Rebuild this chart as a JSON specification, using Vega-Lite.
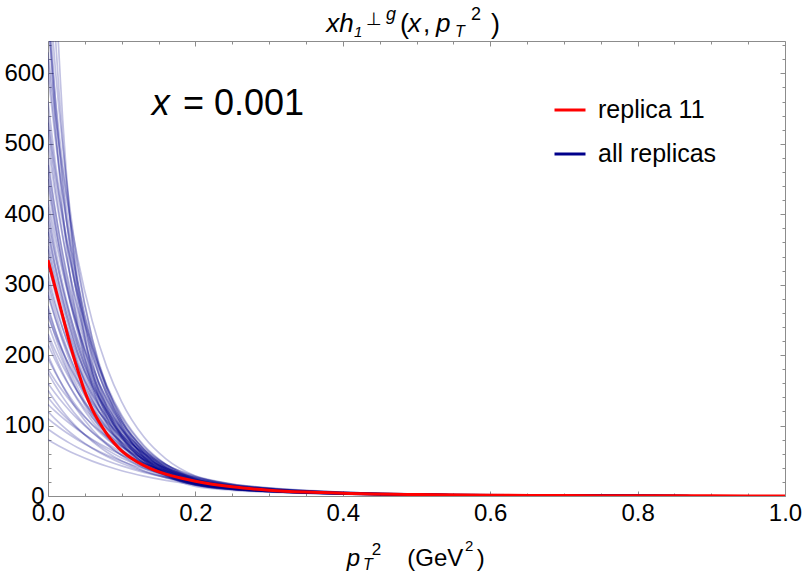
{
"$schema":"https://vega.github.io/schema/vega-lite/v6.json",
"width":737,"height":455,"autosize":"none",
"padding":{"left":48,"top":41,"right":20,"bottom":78},
"config":{"view":{"stroke":"#8c8c8c","strokeWidth":1},"font":"Liberation Sans"},
"datasets":{
"red":[
{"pt2":0,"f":335},{"pt2":0.01,"f":295},{"pt2":0.02,"f":255},{"pt2":0.03,"f":215},{"pt2":0.04,"f":180},{"pt2":0.05,"f":148},{"pt2":0.06,"f":123},{"pt2":0.07,"f":104},{"pt2":0.08,"f":88},{"pt2":0.09,"f":75},{"pt2":0.1,"f":64},{"pt2":0.12,"f":49},{"pt2":0.14,"f":38.5},{"pt2":0.16,"f":31},{"pt2":0.18,"f":25.5},{"pt2":0.2,"f":21},{"pt2":0.25,"f":13},{"pt2":0.3,"f":8.3},{"pt2":0.35,"f":5.6},{"pt2":0.4,"f":3.9},{"pt2":0.5,"f":2.0},{"pt2":0.6,"f":1.1},{"pt2":0.7,"f":0.65},{"pt2":0.8,"f":0.38},{"pt2":0.9,"f":0.22},{"pt2":1,"f":0.13}
],
"blue":[
{"replica":1,"pt2":0,"f":80},{"replica":1,"pt2":0.01,"f":73.8},{"replica":1,"pt2":0.02,"f":68.2},{"replica":1,"pt2":0.03,"f":62.9},{"replica":1,"pt2":0.04,"f":58.1},{"replica":1,"pt2":0.06,"f":49.5},{"replica":1,"pt2":0.08,"f":42.2},{"replica":1,"pt2":0.1,"f":35.9},{"replica":1,"pt2":0.13,"f":28.3},{"replica":1,"pt2":0.16,"f":22.2},{"replica":1,"pt2":0.2,"f":16.2},{"replica":1,"pt2":0.25,"f":9.7},{"replica":1,"pt2":0.3,"f":6.5},{"replica":1,"pt2":0.4,"f":3.1},{"replica":1,"pt2":0.55,"f":1.2},{"replica":1,"pt2":0.75,"f":0.4},{"replica":1,"pt2":1,"f":0.1},
{"replica":2,"pt2":0,"f":95},{"replica":2,"pt2":0.01,"f":87.7},{"replica":2,"pt2":0.02,"f":80.9},{"replica":2,"pt2":0.03,"f":74.7},{"replica":2,"pt2":0.04,"f":69},{"replica":2,"pt2":0.06,"f":58.8},{"replica":2,"pt2":0.08,"f":50.1},{"replica":2,"pt2":0.1,"f":42.7},{"replica":2,"pt2":0.13,"f":33.6},{"replica":2,"pt2":0.16,"f":26.4},{"replica":2,"pt2":0.2,"f":19.2},{"replica":2,"pt2":0.25,"f":11.5},{"replica":2,"pt2":0.3,"f":7.7},{"replica":2,"pt2":0.4,"f":3.6},{"replica":2,"pt2":0.55,"f":1.4},{"replica":2,"pt2":0.75,"f":0.5},{"replica":2,"pt2":1,"f":0.12},
{"replica":3,"pt2":0,"f":110},{"replica":3,"pt2":0.01,"f":101.5},{"replica":3,"pt2":0.02,"f":93.7},{"replica":3,"pt2":0.03,"f":86.5},{"replica":3,"pt2":0.04,"f":79.9},{"replica":3,"pt2":0.06,"f":68.1},{"replica":3,"pt2":0.08,"f":58},{"replica":3,"pt2":0.1,"f":49.4},{"replica":3,"pt2":0.13,"f":38.9},{"replica":3,"pt2":0.16,"f":30.6},{"replica":3,"pt2":0.2,"f":22.2},{"replica":3,"pt2":0.25,"f":13.3},{"replica":3,"pt2":0.3,"f":8.9},{"replica":3,"pt2":0.4,"f":4.2},{"replica":3,"pt2":0.55,"f":1.7},{"replica":3,"pt2":0.75,"f":0.6},{"replica":3,"pt2":1,"f":0.13},
{"replica":4,"pt2":0,"f":120},{"replica":4,"pt2":0.01,"f":109.1},{"replica":4,"pt2":0.02,"f":99.2},{"replica":4,"pt2":0.03,"f":90.2},{"replica":4,"pt2":0.04,"f":82.1},{"replica":4,"pt2":0.06,"f":67.9},{"replica":4,"pt2":0.08,"f":56.1},{"replica":4,"pt2":0.1,"f":46.4},{"replica":4,"pt2":0.13,"f":34.9},{"replica":4,"pt2":0.16,"f":26.2},{"replica":4,"pt2":0.2,"f":18},{"replica":4,"pt2":0.25,"f":10.8},{"replica":4,"pt2":0.3,"f":7.2},{"replica":4,"pt2":0.4,"f":3.4},{"replica":4,"pt2":0.55,"f":1.35},{"replica":4,"pt2":0.75,"f":0.45},{"replica":4,"pt2":1,"f":0.11},
{"replica":5,"pt2":0,"f":140},{"replica":5,"pt2":0.01,"f":127.3},{"replica":5,"pt2":0.02,"f":115.8},{"replica":5,"pt2":0.03,"f":105.3},{"replica":5,"pt2":0.04,"f":95.7},{"replica":5,"pt2":0.06,"f":79.2},{"replica":5,"pt2":0.08,"f":65.5},{"replica":5,"pt2":0.1,"f":54.1},{"replica":5,"pt2":0.13,"f":40.7},{"replica":5,"pt2":0.16,"f":30.6},{"replica":5,"pt2":0.2,"f":20.9},{"replica":5,"pt2":0.25,"f":12.5},{"replica":5,"pt2":0.3,"f":8.4},{"replica":5,"pt2":0.4,"f":4},{"replica":5,"pt2":0.55,"f":1.6},{"replica":5,"pt2":0.75,"f":0.5},{"replica":5,"pt2":1,"f":0.13},
{"replica":6,"pt2":0,"f":160},{"replica":6,"pt2":0.01,"f":145.5},{"replica":6,"pt2":0.02,"f":132.3},{"replica":6,"pt2":0.03,"f":120.3},{"replica":6,"pt2":0.04,"f":109.4},{"replica":6,"pt2":0.06,"f":90.5},{"replica":6,"pt2":0.08,"f":74.8},{"replica":6,"pt2":0.1,"f":61.9},{"replica":6,"pt2":0.13,"f":46.5},{"replica":6,"pt2":0.16,"f":35},{"replica":6,"pt2":0.2,"f":23.9},{"replica":6,"pt2":0.25,"f":14.3},{"replica":6,"pt2":0.3,"f":9.6},{"replica":6,"pt2":0.4,"f":4.5},{"replica":6,"pt2":0.55,"f":1.8},{"replica":6,"pt2":0.75,"f":0.6},{"replica":6,"pt2":1,"f":0.14},
{"replica":7,"pt2":0,"f":150},{"replica":7,"pt2":0.01,"f":134.4},{"replica":7,"pt2":0.02,"f":120.4},{"replica":7,"pt2":0.03,"f":107.8},{"replica":7,"pt2":0.04,"f":96.6},{"replica":7,"pt2":0.06,"f":77.5},{"replica":7,"pt2":0.08,"f":62.2},{"replica":7,"pt2":0.1,"f":49.9},{"replica":7,"pt2":0.13,"f":35.9},{"replica":7,"pt2":0.16,"f":25.8},{"replica":7,"pt2":0.2,"f":16.6},{"replica":7,"pt2":0.25,"f":10},{"replica":7,"pt2":0.3,"f":6.6},{"replica":7,"pt2":0.4,"f":3.2},{"replica":7,"pt2":0.55,"f":1.25},{"replica":7,"pt2":0.75,"f":0.4},{"replica":7,"pt2":1,"f":0.1},
{"replica":8,"pt2":0,"f":175},{"replica":8,"pt2":0.01,"f":156.8},{"replica":8,"pt2":0.02,"f":140.4},{"replica":8,"pt2":0.03,"f":125.8},{"replica":8,"pt2":0.04,"f":112.7},{"replica":8,"pt2":0.06,"f":90.5},{"replica":8,"pt2":0.08,"f":72.6},{"replica":8,"pt2":0.1,"f":58.3},{"replica":8,"pt2":0.13,"f":41.9},{"replica":8,"pt2":0.16,"f":30.1},{"replica":8,"pt2":0.2,"f":19.4},{"replica":8,"pt2":0.25,"f":11.6},{"replica":8,"pt2":0.3,"f":7.8},{"replica":8,"pt2":0.4,"f":3.7},{"replica":8,"pt2":0.55,"f":1.5},{"replica":8,"pt2":0.75,"f":0.5},{"replica":8,"pt2":1,"f":0.12},
{"replica":9,"pt2":0,"f":195},{"replica":9,"pt2":0.01,"f":174.7},{"replica":9,"pt2":0.02,"f":156.5},{"replica":9,"pt2":0.03,"f":140.2},{"replica":9,"pt2":0.04,"f":125.6},{"replica":9,"pt2":0.06,"f":100.8},{"replica":9,"pt2":0.08,"f":80.9},{"replica":9,"pt2":0.1,"f":64.9},{"replica":9,"pt2":0.13,"f":46.7},{"replica":9,"pt2":0.16,"f":33.5},{"replica":9,"pt2":0.2,"f":21.6},{"replica":9,"pt2":0.25,"f":13},{"replica":9,"pt2":0.3,"f":8.6},{"replica":9,"pt2":0.4,"f":4.1},{"replica":9,"pt2":0.55,"f":1.6},{"replica":9,"pt2":0.75,"f":0.54},{"replica":9,"pt2":1,"f":0.13},
{"replica":10,"pt2":0,"f":215},{"replica":10,"pt2":0.01,"f":192.6},{"replica":10,"pt2":0.02,"f":172.5},{"replica":10,"pt2":0.03,"f":154.6},{"replica":10,"pt2":0.04,"f":138.5},{"replica":10,"pt2":0.06,"f":111.1},{"replica":10,"pt2":0.08,"f":89.2},{"replica":10,"pt2":0.1,"f":71.6},{"replica":10,"pt2":0.13,"f":51.4},{"replica":10,"pt2":0.16,"f":37},{"replica":10,"pt2":0.2,"f":23.8},{"replica":10,"pt2":0.25,"f":14.3},{"replica":10,"pt2":0.3,"f":9.5},{"replica":10,"pt2":0.4,"f":4.5},{"replica":10,"pt2":0.55,"f":1.8},{"replica":10,"pt2":0.75,"f":0.6},{"replica":10,"pt2":1,"f":0.14},
{"replica":12,"pt2":0,"f":200},{"replica":12,"pt2":0.01,"f":176.5},{"replica":12,"pt2":0.02,"f":155.8},{"replica":12,"pt2":0.03,"f":137.5},{"replica":12,"pt2":0.04,"f":121.3},{"replica":12,"pt2":0.06,"f":94.5},{"replica":12,"pt2":0.08,"f":73.6},{"replica":12,"pt2":0.1,"f":57.3},{"replica":12,"pt2":0.13,"f":39.4},{"replica":12,"pt2":0.16,"f":27.1},{"replica":12,"pt2":0.2,"f":16.4},{"replica":12,"pt2":0.25,"f":9.8},{"replica":12,"pt2":0.3,"f":6.6},{"replica":12,"pt2":0.4,"f":3.1},{"replica":12,"pt2":0.55,"f":1.2},{"replica":12,"pt2":0.75,"f":0.4},{"replica":12,"pt2":1,"f":0.1},
{"replica":13,"pt2":0,"f":225},{"replica":13,"pt2":0.01,"f":198.6},{"replica":13,"pt2":0.02,"f":175.2},{"replica":13,"pt2":0.03,"f":154.6},{"replica":13,"pt2":0.04,"f":136.5},{"replica":13,"pt2":0.06,"f":106.3},{"replica":13,"pt2":0.08,"f":82.8},{"replica":13,"pt2":0.1,"f":64.5},{"replica":13,"pt2":0.13,"f":44.3},{"replica":13,"pt2":0.16,"f":30.4},{"replica":13,"pt2":0.2,"f":18.5},{"replica":13,"pt2":0.25,"f":11.1},{"replica":13,"pt2":0.3,"f":7.4},{"replica":13,"pt2":0.4,"f":3.5},{"replica":13,"pt2":0.55,"f":1.4},{"replica":13,"pt2":0.75,"f":0.46},{"replica":13,"pt2":1,"f":0.11},
{"replica":14,"pt2":0,"f":245},{"replica":14,"pt2":0.01,"f":216.2},{"replica":14,"pt2":0.02,"f":190.8},{"replica":14,"pt2":0.03,"f":168.4},{"replica":14,"pt2":0.04,"f":148.6},{"replica":14,"pt2":0.06,"f":115.7},{"replica":14,"pt2":0.08,"f":90.1},{"replica":14,"pt2":0.1,"f":70.2},{"replica":14,"pt2":0.13,"f":48.2},{"replica":14,"pt2":0.16,"f":33.1},{"replica":14,"pt2":0.2,"f":20.1},{"replica":14,"pt2":0.25,"f":12.1},{"replica":14,"pt2":0.3,"f":8},{"replica":14,"pt2":0.4,"f":3.8},{"replica":14,"pt2":0.55,"f":1.5},{"replica":14,"pt2":0.75,"f":0.5},{"replica":14,"pt2":1,"f":0.12},
{"replica":15,"pt2":0,"f":265},{"replica":15,"pt2":0.01,"f":233.9},{"replica":15,"pt2":0.02,"f":206.4},{"replica":15,"pt2":0.03,"f":182.1},{"replica":15,"pt2":0.04,"f":160.7},{"replica":15,"pt2":0.06,"f":125.2},{"replica":15,"pt2":0.08,"f":97.5},{"replica":15,"pt2":0.1,"f":75.9},{"replica":15,"pt2":0.13,"f":52.2},{"replica":15,"pt2":0.16,"f":35.9},{"replica":15,"pt2":0.2,"f":21.8},{"replica":15,"pt2":0.25,"f":13.1},{"replica":15,"pt2":0.3,"f":8.7},{"replica":15,"pt2":0.4,"f":4.1},{"replica":15,"pt2":0.55,"f":1.6},{"replica":15,"pt2":0.75,"f":0.55},{"replica":15,"pt2":1,"f":0.13},
{"replica":16,"pt2":0,"f":285},{"replica":16,"pt2":0.01,"f":251.5},{"replica":16,"pt2":0.02,"f":222},{"replica":16,"pt2":0.03,"f":195.9},{"replica":16,"pt2":0.04,"f":172.9},{"replica":16,"pt2":0.06,"f":134.6},{"replica":16,"pt2":0.08,"f":104.9},{"replica":16,"pt2":0.1,"f":81.7},{"replica":16,"pt2":0.13,"f":56.1},{"replica":16,"pt2":0.16,"f":38.6},{"replica":16,"pt2":0.2,"f":23.4},{"replica":16,"pt2":0.25,"f":14},{"replica":16,"pt2":0.3,"f":9.4},{"replica":16,"pt2":0.4,"f":4.4},{"replica":16,"pt2":0.55,"f":1.75},{"replica":16,"pt2":0.75,"f":0.6},{"replica":16,"pt2":1,"f":0.14},
{"replica":17,"pt2":0,"f":305},{"replica":17,"pt2":0.01,"f":269.2},{"replica":17,"pt2":0.02,"f":237.5},{"replica":17,"pt2":0.03,"f":209.6},{"replica":17,"pt2":0.04,"f":185},{"replica":17,"pt2":0.06,"f":144.1},{"replica":17,"pt2":0.08,"f":112.2},{"replica":17,"pt2":0.1,"f":87.4},{"replica":17,"pt2":0.13,"f":60.1},{"replica":17,"pt2":0.16,"f":41.3},{"replica":17,"pt2":0.2,"f":25},{"replica":17,"pt2":0.25,"f":15},{"replica":17,"pt2":0.3,"f":10},{"replica":17,"pt2":0.4,"f":4.75},{"replica":17,"pt2":0.55,"f":1.9},{"replica":17,"pt2":0.75,"f":0.63},{"replica":17,"pt2":1,"f":0.15},
{"replica":18,"pt2":0,"f":260},{"replica":18,"pt2":0.01,"f":226},{"replica":18,"pt2":0.02,"f":196.5},{"replica":18,"pt2":0.03,"f":170.8},{"replica":18,"pt2":0.04,"f":148.5},{"replica":18,"pt2":0.06,"f":112.2},{"replica":18,"pt2":0.08,"f":84.8},{"replica":18,"pt2":0.1,"f":64.1},{"replica":18,"pt2":0.13,"f":42.1},{"replica":18,"pt2":0.16,"f":27.7},{"replica":18,"pt2":0.2,"f":15.8},{"replica":18,"pt2":0.25,"f":9.5},{"replica":18,"pt2":0.3,"f":6.3},{"replica":18,"pt2":0.4,"f":3},{"replica":18,"pt2":0.55,"f":1.2},{"replica":18,"pt2":0.75,"f":0.4},{"replica":18,"pt2":1,"f":0.1},
{"replica":19,"pt2":0,"f":290},{"replica":19,"pt2":0.01,"f":252.1},{"replica":19,"pt2":0.02,"f":219.2},{"replica":19,"pt2":0.03,"f":190.5},{"replica":19,"pt2":0.04,"f":165.6},{"replica":19,"pt2":0.06,"f":125.2},{"replica":19,"pt2":0.08,"f":94.6},{"replica":19,"pt2":0.1,"f":71.5},{"replica":19,"pt2":0.13,"f":47},{"replica":19,"pt2":0.16,"f":30.9},{"replica":19,"pt2":0.2,"f":17.6},{"replica":19,"pt2":0.25,"f":10.6},{"replica":19,"pt2":0.3,"f":7},{"replica":19,"pt2":0.4,"f":3.3},{"replica":19,"pt2":0.55,"f":1.3},{"replica":19,"pt2":0.75,"f":0.44},{"replica":19,"pt2":1,"f":0.11},
{"replica":20,"pt2":0,"f":315},{"replica":20,"pt2":0.01,"f":273.9},{"replica":20,"pt2":0.02,"f":238.1},{"replica":20,"pt2":0.03,"f":207},{"replica":20,"pt2":0.04,"f":179.9},{"replica":20,"pt2":0.06,"f":136},{"replica":20,"pt2":0.08,"f":102.8},{"replica":20,"pt2":0.1,"f":77.7},{"replica":20,"pt2":0.13,"f":51},{"replica":20,"pt2":0.16,"f":33.5},{"replica":20,"pt2":0.2,"f":19.2},{"replica":20,"pt2":0.25,"f":11.5},{"replica":20,"pt2":0.3,"f":7.7},{"replica":20,"pt2":0.4,"f":3.6},{"replica":20,"pt2":0.55,"f":1.4},{"replica":20,"pt2":0.75,"f":0.48},{"replica":20,"pt2":1,"f":0.12},
{"replica":21,"pt2":0,"f":340},{"replica":21,"pt2":0.01,"f":295.6},{"replica":21,"pt2":0.02,"f":257},{"replica":21,"pt2":0.03,"f":223.4},{"replica":21,"pt2":0.04,"f":194.2},{"replica":21,"pt2":0.06,"f":146.8},{"replica":21,"pt2":0.08,"f":110.9},{"replica":21,"pt2":0.1,"f":83.8},{"replica":21,"pt2":0.13,"f":55.1},{"replica":21,"pt2":0.16,"f":36.2},{"replica":21,"pt2":0.2,"f":20.7},{"replica":21,"pt2":0.25,"f":12.4},{"replica":21,"pt2":0.3,"f":8.3},{"replica":21,"pt2":0.4,"f":3.9},{"replica":21,"pt2":0.55,"f":1.55},{"replica":21,"pt2":0.75,"f":0.52},{"replica":21,"pt2":1,"f":0.12},
{"replica":22,"pt2":0,"f":365},{"replica":22,"pt2":0.01,"f":317.3},{"replica":22,"pt2":0.02,"f":275.9},{"replica":22,"pt2":0.03,"f":239.8},{"replica":22,"pt2":0.04,"f":208.5},{"replica":22,"pt2":0.06,"f":157.6},{"replica":22,"pt2":0.08,"f":119.1},{"replica":22,"pt2":0.1,"f":90},{"replica":22,"pt2":0.13,"f":59.1},{"replica":22,"pt2":0.16,"f":38.9},{"replica":22,"pt2":0.2,"f":22.2},{"replica":22,"pt2":0.25,"f":13.3},{"replica":22,"pt2":0.3,"f":8.9},{"replica":22,"pt2":0.4,"f":4.2},{"replica":22,"pt2":0.55,"f":1.7},{"replica":22,"pt2":0.75,"f":0.55},{"replica":22,"pt2":1,"f":0.13},
{"replica":23,"pt2":0,"f":390},{"replica":23,"pt2":0.01,"f":339.1},{"replica":23,"pt2":0.02,"f":294.8},{"replica":23,"pt2":0.03,"f":256.2},{"replica":23,"pt2":0.04,"f":222.8},{"replica":23,"pt2":0.06,"f":168.4},{"replica":23,"pt2":0.08,"f":127.3},{"replica":23,"pt2":0.1,"f":96.2},{"replica":23,"pt2":0.13,"f":63.2},{"replica":23,"pt2":0.16,"f":41.5},{"replica":23,"pt2":0.2,"f":23.7},{"replica":23,"pt2":0.25,"f":14.2},{"replica":23,"pt2":0.3,"f":9.5},{"replica":23,"pt2":0.4,"f":4.5},{"replica":23,"pt2":0.55,"f":1.8},{"replica":23,"pt2":0.75,"f":0.6},{"replica":23,"pt2":1,"f":0.14},
{"replica":24,"pt2":0,"f":420},{"replica":24,"pt2":0.01,"f":365.1},{"replica":24,"pt2":0.02,"f":317.4},{"replica":24,"pt2":0.03,"f":275.9},{"replica":24,"pt2":0.04,"f":239.9},{"replica":24,"pt2":0.06,"f":181.3},{"replica":24,"pt2":0.08,"f":137},{"replica":24,"pt2":0.1,"f":103.6},{"replica":24,"pt2":0.13,"f":68},{"replica":24,"pt2":0.16,"f":44.7},{"replica":24,"pt2":0.2,"f":25.5},{"replica":24,"pt2":0.25,"f":15.3},{"replica":24,"pt2":0.3,"f":10.2},{"replica":24,"pt2":0.4,"f":4.8},{"replica":24,"pt2":0.55,"f":1.9},{"replica":24,"pt2":0.75,"f":0.64},{"replica":24,"pt2":1,"f":0.15},
{"replica":25,"pt2":0,"f":350},{"replica":25,"pt2":0.01,"f":299.7},{"replica":25,"pt2":0.02,"f":256.7},{"replica":25,"pt2":0.03,"f":219.8},{"replica":25,"pt2":0.04,"f":188.3},{"replica":25,"pt2":0.06,"f":138.1},{"replica":25,"pt2":0.08,"f":101.3},{"replica":25,"pt2":0.1,"f":74.3},{"replica":25,"pt2":0.13,"f":46.7},{"replica":25,"pt2":0.16,"f":29.3},{"replica":25,"pt2":0.2,"f":15.8},{"replica":25,"pt2":0.25,"f":9.5},{"replica":25,"pt2":0.3,"f":6.3},{"replica":25,"pt2":0.4,"f":3},{"replica":25,"pt2":0.55,"f":1.2},{"replica":25,"pt2":0.75,"f":0.4},{"replica":25,"pt2":1,"f":0.1},
{"replica":26,"pt2":0,"f":380},{"replica":26,"pt2":0.01,"f":325.4},{"replica":26,"pt2":0.02,"f":278.7},{"replica":26,"pt2":0.03,"f":238.7},{"replica":26,"pt2":0.04,"f":204.4},{"replica":26,"pt2":0.06,"f":149.9},{"replica":26,"pt2":0.08,"f":110},{"replica":26,"pt2":0.1,"f":80.6},{"replica":26,"pt2":0.13,"f":50.7},{"replica":26,"pt2":0.16,"f":31.8},{"replica":26,"pt2":0.2,"f":17.1},{"replica":26,"pt2":0.25,"f":10.3},{"replica":26,"pt2":0.3,"f":6.8},{"replica":26,"pt2":0.4,"f":3.2},{"replica":26,"pt2":0.55,"f":1.3},{"replica":26,"pt2":0.75,"f":0.43},{"replica":26,"pt2":1,"f":0.1},
{"replica":27,"pt2":0,"f":410},{"replica":27,"pt2":0.01,"f":351.1},{"replica":27,"pt2":0.02,"f":300.7},{"replica":27,"pt2":0.03,"f":257.5},{"replica":27,"pt2":0.04,"f":220.5},{"replica":27,"pt2":0.06,"f":161.8},{"replica":27,"pt2":0.08,"f":118.7},{"replica":27,"pt2":0.1,"f":87},{"replica":27,"pt2":0.13,"f":54.7},{"replica":27,"pt2":0.16,"f":34.3},{"replica":27,"pt2":0.2,"f":18.5},{"replica":27,"pt2":0.25,"f":11.1},{"replica":27,"pt2":0.3,"f":7.4},{"replica":27,"pt2":0.4,"f":3.5},{"replica":27,"pt2":0.55,"f":1.4},{"replica":27,"pt2":0.75,"f":0.46},{"replica":27,"pt2":1,"f":0.11},
{"replica":28,"pt2":0,"f":440},{"replica":28,"pt2":0.01,"f":376.8},{"replica":28,"pt2":0.02,"f":322.7},{"replica":28,"pt2":0.03,"f":276.4},{"replica":28,"pt2":0.04,"f":236.7},{"replica":28,"pt2":0.06,"f":173.6},{"replica":28,"pt2":0.08,"f":127.3},{"replica":28,"pt2":0.1,"f":93.4},{"replica":28,"pt2":0.13,"f":58.7},{"replica":28,"pt2":0.16,"f":36.8},{"replica":28,"pt2":0.2,"f":19.8},{"replica":28,"pt2":0.25,"f":11.9},{"replica":28,"pt2":0.3,"f":7.9},{"replica":28,"pt2":0.4,"f":3.8},{"replica":28,"pt2":0.55,"f":1.5},{"replica":28,"pt2":0.75,"f":0.5},{"replica":28,"pt2":1,"f":0.12},
{"replica":29,"pt2":0,"f":470},{"replica":29,"pt2":0.01,"f":402.5},{"replica":29,"pt2":0.02,"f":344.7},{"replica":29,"pt2":0.03,"f":295.2},{"replica":29,"pt2":0.04,"f":252.8},{"replica":29,"pt2":0.06,"f":185.5},{"replica":29,"pt2":0.08,"f":136},{"replica":29,"pt2":0.1,"f":99.7},{"replica":29,"pt2":0.13,"f":62.7},{"replica":29,"pt2":0.16,"f":39.3},{"replica":29,"pt2":0.2,"f":21.2},{"replica":29,"pt2":0.25,"f":12.7},{"replica":29,"pt2":0.3,"f":8.5},{"replica":29,"pt2":0.4,"f":4},{"replica":29,"pt2":0.55,"f":1.6},{"replica":29,"pt2":0.75,"f":0.53},{"replica":29,"pt2":1,"f":0.13},
{"replica":30,"pt2":0,"f":500},{"replica":30,"pt2":0.01,"f":428.2},{"replica":30,"pt2":0.02,"f":366.7},{"replica":30,"pt2":0.03,"f":314.1},{"replica":30,"pt2":0.04,"f":269},{"replica":30,"pt2":0.06,"f":197.3},{"replica":30,"pt2":0.08,"f":144.7},{"replica":30,"pt2":0.1,"f":106.1},{"replica":30,"pt2":0.13,"f":66.7},{"replica":30,"pt2":0.16,"f":41.9},{"replica":30,"pt2":0.2,"f":22.5},{"replica":30,"pt2":0.25,"f":13.5},{"replica":30,"pt2":0.3,"f":9},{"replica":30,"pt2":0.4,"f":4.3},{"replica":30,"pt2":0.55,"f":1.7},{"replica":30,"pt2":0.75,"f":0.56},{"replica":30,"pt2":1,"f":0.14},
{"replica":31,"pt2":0,"f":530},{"replica":31,"pt2":0.01,"f":453.9},{"replica":31,"pt2":0.02,"f":388.7},{"replica":31,"pt2":0.03,"f":332.9},{"replica":31,"pt2":0.04,"f":285.1},{"replica":31,"pt2":0.06,"f":209.1},{"replica":31,"pt2":0.08,"f":153.4},{"replica":31,"pt2":0.1,"f":112.5},{"replica":31,"pt2":0.13,"f":70.6},{"replica":31,"pt2":0.16,"f":44.4},{"replica":31,"pt2":0.2,"f":23.9},{"replica":31,"pt2":0.25,"f":14.3},{"replica":31,"pt2":0.3,"f":9.6},{"replica":31,"pt2":0.4,"f":4.5},{"replica":31,"pt2":0.55,"f":1.8},{"replica":31,"pt2":0.75,"f":0.6},{"replica":31,"pt2":1,"f":0.14},
{"replica":32,"pt2":0,"f":630},{"replica":32,"pt2":0.01,"f":539.5},{"replica":32,"pt2":0.02,"f":462},{"replica":32,"pt2":0.03,"f":395.7},{"replica":32,"pt2":0.04,"f":338.9},{"replica":32,"pt2":0.06,"f":248.6},{"replica":32,"pt2":0.08,"f":182.3},{"replica":32,"pt2":0.1,"f":133.7},{"replica":32,"pt2":0.13,"f":84},{"replica":32,"pt2":0.16,"f":52.7},{"replica":32,"pt2":0.2,"f":28.4},{"replica":32,"pt2":0.25,"f":17},{"replica":32,"pt2":0.3,"f":11.4},{"replica":32,"pt2":0.4,"f":5.4},{"replica":32,"pt2":0.55,"f":2.1},{"replica":32,"pt2":0.75,"f":0.71},{"replica":32,"pt2":1,"f":0.17},
{"replica":33,"pt2":0,"f":480},{"replica":33,"pt2":0.01,"f":405},{"replica":33,"pt2":0.02,"f":341.7},{"replica":33,"pt2":0.03,"f":288.2},{"replica":33,"pt2":0.04,"f":243.2},{"replica":33,"pt2":0.06,"f":173.1},{"replica":33,"pt2":0.08,"f":123.2},{"replica":33,"pt2":0.1,"f":87.7},{"replica":33,"pt2":0.13,"f":52.7},{"replica":33,"pt2":0.16,"f":31.6},{"replica":33,"pt2":0.2,"f":16},{"replica":33,"pt2":0.25,"f":9.6},{"replica":33,"pt2":0.3,"f":6.4},{"replica":33,"pt2":0.4,"f":3},{"replica":33,"pt2":0.55,"f":1.2},{"replica":33,"pt2":0.75,"f":0.4},{"replica":33,"pt2":1,"f":0.1},
{"replica":34,"pt2":0,"f":520},{"replica":34,"pt2":0.01,"f":438.7},{"replica":34,"pt2":0.02,"f":370.1},{"replica":34,"pt2":0.03,"f":312.3},{"replica":34,"pt2":0.04,"f":263.4},{"replica":34,"pt2":0.06,"f":187.5},{"replica":34,"pt2":0.08,"f":133.5},{"replica":34,"pt2":0.1,"f":95},{"replica":34,"pt2":0.13,"f":57},{"replica":34,"pt2":0.16,"f":34.3},{"replica":34,"pt2":0.2,"f":17.4},{"replica":34,"pt2":0.25,"f":10.4},{"replica":34,"pt2":0.3,"f":7},{"replica":34,"pt2":0.4,"f":3.3},{"replica":34,"pt2":0.55,"f":1.3},{"replica":34,"pt2":0.75,"f":0.44},{"replica":34,"pt2":1,"f":0.1},
{"replica":35,"pt2":0,"f":560},{"replica":35,"pt2":0.01,"f":472.5},{"replica":35,"pt2":0.02,"f":398.6},{"replica":35,"pt2":0.03,"f":336.3},{"replica":35,"pt2":0.04,"f":283.7},{"replica":35,"pt2":0.06,"f":201.9},{"replica":35,"pt2":0.08,"f":143.8},{"replica":35,"pt2":0.1,"f":102.3},{"replica":35,"pt2":0.13,"f":61.4},{"replica":35,"pt2":0.16,"f":36.9},{"replica":35,"pt2":0.2,"f":18.7},{"replica":35,"pt2":0.25,"f":11.2},{"replica":35,"pt2":0.3,"f":7.5},{"replica":35,"pt2":0.4,"f":3.6},{"replica":35,"pt2":0.55,"f":1.4},{"replica":35,"pt2":0.75,"f":0.47},{"replica":35,"pt2":1,"f":0.11},
{"replica":36,"pt2":0,"f":600},{"replica":36,"pt2":0.01,"f":506.2},{"replica":36,"pt2":0.02,"f":427.1},{"replica":36,"pt2":0.03,"f":360.3},{"replica":36,"pt2":0.04,"f":304},{"replica":36,"pt2":0.06,"f":216.4},{"replica":36,"pt2":0.08,"f":154},{"replica":36,"pt2":0.1,"f":109.6},{"replica":36,"pt2":0.13,"f":65.8},{"replica":36,"pt2":0.16,"f":39.5},{"replica":36,"pt2":0.2,"f":20},{"replica":36,"pt2":0.25,"f":12},{"replica":36,"pt2":0.3,"f":8},{"replica":36,"pt2":0.4,"f":3.8},{"replica":36,"pt2":0.55,"f":1.5},{"replica":36,"pt2":0.75,"f":0.5},{"replica":36,"pt2":1,"f":0.12},
{"replica":37,"pt2":0,"f":620},{"replica":37,"pt2":0.01,"f":515.3},{"replica":37,"pt2":0.02,"f":428.2},{"replica":37,"pt2":0.03,"f":355.9},{"replica":37,"pt2":0.04,"f":295.8},{"replica":37,"pt2":0.06,"f":204.4},{"replica":37,"pt2":0.08,"f":141.1},{"replica":37,"pt2":0.1,"f":97.5},{"replica":37,"pt2":0.13,"f":56},{"replica":37,"pt2":0.16,"f":32.1},{"replica":37,"pt2":0.2,"f":15.3},{"replica":37,"pt2":0.25,"f":9.2},{"replica":37,"pt2":0.3,"f":6.1},{"replica":37,"pt2":0.4,"f":2.9},{"replica":37,"pt2":0.55,"f":1.15},{"replica":37,"pt2":0.75,"f":0.38},{"replica":37,"pt2":1,"f":0.09},
{"replica":38,"pt2":0,"f":680},{"replica":38,"pt2":0.01,"f":565.1},{"replica":38,"pt2":0.02,"f":469.7},{"replica":38,"pt2":0.03,"f":390.4},{"replica":38,"pt2":0.04,"f":324.4},{"replica":38,"pt2":0.06,"f":224.1},{"replica":38,"pt2":0.08,"f":154.8},{"replica":38,"pt2":0.1,"f":106.9},{"replica":38,"pt2":0.13,"f":61.4},{"replica":38,"pt2":0.16,"f":35.2},{"replica":38,"pt2":0.2,"f":16.8},{"replica":38,"pt2":0.25,"f":10.1},{"replica":38,"pt2":0.3,"f":6.7},{"replica":38,"pt2":0.4,"f":3.2},{"replica":38,"pt2":0.55,"f":1.26},{"replica":38,"pt2":0.75,"f":0.42},{"replica":38,"pt2":1,"f":0.1},
{"replica":39,"pt2":0,"f":740},{"replica":39,"pt2":0.01,"f":605.8},{"replica":39,"pt2":0.02,"f":496},{"replica":39,"pt2":0.03,"f":406.1},{"replica":39,"pt2":0.04,"f":332.5},{"replica":39,"pt2":0.06,"f":222.9},{"replica":39,"pt2":0.08,"f":149.4},{"replica":39,"pt2":0.1,"f":100.1},{"replica":39,"pt2":0.13,"f":55},{"replica":39,"pt2":0.16,"f":30.2},{"replica":39,"pt2":0.2,"f":13.5},{"replica":39,"pt2":0.25,"f":8.1},{"replica":39,"pt2":0.3,"f":5.4},{"replica":39,"pt2":0.4,"f":2.6},{"replica":39,"pt2":0.55,"f":1},{"replica":39,"pt2":0.75,"f":0.34},{"replica":39,"pt2":1,"f":0.08},
{"replica":40,"pt2":0,"f":850},{"replica":40,"pt2":0.01,"f":653},{"replica":40,"pt2":0.02,"f":504.6},{"replica":40,"pt2":0.03,"f":392.4},{"replica":40,"pt2":0.04,"f":307.4},{"replica":40,"pt2":0.06,"f":193.2},{"replica":40,"pt2":0.08,"f":125.7},{"replica":40,"pt2":0.1,"f":84.8},{"replica":40,"pt2":0.13,"f":50},{"replica":40,"pt2":0.16,"f":31.5},{"replica":40,"pt2":0.2,"f":18.4},{"replica":40,"pt2":0.25,"f":11},{"replica":40,"pt2":0.3,"f":7.4},{"replica":40,"pt2":0.4,"f":3.5},{"replica":40,"pt2":0.55,"f":1.4},{"replica":40,"pt2":0.75,"f":0.46},{"replica":40,"pt2":1,"f":0.11},
{"replica":41,"pt2":0,"f":700},{"replica":41,"pt2":0.01,"f":528.9},{"replica":41,"pt2":0.02,"f":404.1},{"replica":41,"pt2":0.03,"f":312.5},{"replica":41,"pt2":0.04,"f":244.6},{"replica":41,"pt2":0.06,"f":155.7},{"replica":41,"pt2":0.08,"f":104},{"replica":41,"pt2":0.1,"f":72.4},{"replica":41,"pt2":0.13,"f":44.7},{"replica":41,"pt2":0.16,"f":28.9},{"replica":41,"pt2":0.2,"f":16.9},{"replica":41,"pt2":0.25,"f":10.1},{"replica":41,"pt2":0.3,"f":6.8},{"replica":41,"pt2":0.4,"f":3.2},{"replica":41,"pt2":0.55,"f":1.3},{"replica":41,"pt2":0.75,"f":0.42},{"replica":41,"pt2":1,"f":0.1},
{"replica":42,"pt2":0,"f":1020},{"replica":42,"pt2":0.01,"f":733.6},{"replica":42,"pt2":0.02,"f":533.9},{"replica":42,"pt2":0.03,"f":394},{"replica":42,"pt2":0.04,"f":295.4},{"replica":42,"pt2":0.06,"f":174.9},{"replica":42,"pt2":0.08,"f":111.1},{"replica":42,"pt2":0.1,"f":75.6},{"replica":42,"pt2":0.13,"f":46.8},{"replica":42,"pt2":0.16,"f":31.2},{"replica":42,"pt2":0.2,"f":19.2},{"replica":42,"pt2":0.25,"f":11.5},{"replica":42,"pt2":0.3,"f":7.7},{"replica":42,"pt2":0.4,"f":3.6},{"replica":42,"pt2":0.55,"f":1.4},{"replica":42,"pt2":0.75,"f":0.48},{"replica":42,"pt2":1,"f":0.12},
{"replica":43,"pt2":0,"f":720},{"replica":43,"pt2":0.01,"f":562.6},{"replica":43,"pt2":0.02,"f":441.9},{"replica":43,"pt2":0.03,"f":349.2},{"replica":43,"pt2":0.04,"f":277.9},{"replica":43,"pt2":0.06,"f":179.7},{"replica":43,"pt2":0.08,"f":120},{"replica":43,"pt2":0.1,"f":82.9},{"replica":43,"pt2":0.13,"f":50.7},{"replica":43,"pt2":0.16,"f":33},{"replica":43,"pt2":0.2,"f":20.2},{"replica":43,"pt2":0.25,"f":12.1},{"replica":43,"pt2":0.3,"f":8.1},{"replica":43,"pt2":0.4,"f":3.8},{"replica":43,"pt2":0.55,"f":1.5},{"replica":43,"pt2":0.75,"f":0.5},{"replica":43,"pt2":1,"f":0.12},
{"replica":44,"pt2":0,"f":670},{"replica":44,"pt2":0.01,"f":547.7},{"replica":44,"pt2":0.02,"f":449.4},{"replica":44,"pt2":0.03,"f":370.2},{"replica":44,"pt2":0.04,"f":306.1},{"replica":44,"pt2":0.06,"f":211.8},{"replica":44,"pt2":0.08,"f":148.8},{"replica":44,"pt2":0.1,"f":106.1},{"replica":44,"pt2":0.13,"f":65.5},{"replica":44,"pt2":0.16,"f":41.5},{"replica":44,"pt2":0.2,"f":23.3},{"replica":44,"pt2":0.25,"f":14},{"replica":44,"pt2":0.3,"f":9.3},{"replica":44,"pt2":0.4,"f":4.4},{"replica":44,"pt2":0.55,"f":1.75},{"replica":44,"pt2":0.75,"f":0.58},{"replica":44,"pt2":1,"f":0.14},
{"replica":45,"pt2":0,"f":230},{"replica":45,"pt2":0.01,"f":206},{"replica":45,"pt2":0.02,"f":184.6},{"replica":45,"pt2":0.03,"f":165.3},{"replica":45,"pt2":0.04,"f":148.1},{"replica":45,"pt2":0.06,"f":118.9},{"replica":45,"pt2":0.08,"f":95.4},{"replica":45,"pt2":0.1,"f":76.6},{"replica":45,"pt2":0.13,"f":55},{"replica":45,"pt2":0.16,"f":39.6},{"replica":45,"pt2":0.2,"f":25.5},{"replica":45,"pt2":0.25,"f":15.3},{"replica":45,"pt2":0.3,"f":10.2},{"replica":45,"pt2":0.4,"f":4.8},{"replica":45,"pt2":0.55,"f":1.9},{"replica":45,"pt2":0.75,"f":0.64},{"replica":45,"pt2":1,"f":0.15},
{"replica":46,"pt2":0,"f":255},{"replica":46,"pt2":0.01,"f":228.4},{"replica":46,"pt2":0.02,"f":204.6},{"replica":46,"pt2":0.03,"f":183.3},{"replica":46,"pt2":0.04,"f":164.2},{"replica":46,"pt2":0.06,"f":131.8},{"replica":46,"pt2":0.08,"f":105.8},{"replica":46,"pt2":0.1,"f":84.9},{"replica":46,"pt2":0.13,"f":61},{"replica":46,"pt2":0.16,"f":43.9},{"replica":46,"pt2":0.2,"f":28.3},{"replica":46,"pt2":0.25,"f":17},{"replica":46,"pt2":0.3,"f":11.3},{"replica":46,"pt2":0.4,"f":5.4},{"replica":46,"pt2":0.55,"f":2.1},{"replica":46,"pt2":0.75,"f":0.7},{"replica":46,"pt2":1,"f":0.17},
{"replica":47,"pt2":0,"f":330},{"replica":47,"pt2":0.01,"f":291.2},{"replica":47,"pt2":0.02,"f":257},{"replica":47,"pt2":0.03,"f":226.8},{"replica":47,"pt2":0.04,"f":200.1},{"replica":47,"pt2":0.06,"f":155.9},{"replica":47,"pt2":0.08,"f":121.4},{"replica":47,"pt2":0.1,"f":94.5},{"replica":47,"pt2":0.13,"f":65},{"replica":47,"pt2":0.16,"f":44.6},{"replica":47,"pt2":0.2,"f":27.1},{"replica":47,"pt2":0.25,"f":16.3},{"replica":47,"pt2":0.3,"f":10.8},{"replica":47,"pt2":0.4,"f":5.1},{"replica":47,"pt2":0.55,"f":2},{"replica":47,"pt2":0.75,"f":0.68},{"replica":47,"pt2":1,"f":0.16},
{"replica":48,"pt2":0,"f":300},{"replica":48,"pt2":0.01,"f":260.8},{"replica":48,"pt2":0.02,"f":226.7},{"replica":48,"pt2":0.03,"f":197.1},{"replica":48,"pt2":0.04,"f":171.4},{"replica":48,"pt2":0.06,"f":129.5},{"replica":48,"pt2":0.08,"f":97.9},{"replica":48,"pt2":0.1,"f":74},{"replica":48,"pt2":0.13,"f":48.6},{"replica":48,"pt2":0.16,"f":32},{"replica":48,"pt2":0.2,"f":18.2},{"replica":48,"pt2":0.25,"f":10.9},{"replica":48,"pt2":0.3,"f":7.3},{"replica":48,"pt2":0.4,"f":3.5},{"replica":48,"pt2":0.55,"f":1.4},{"replica":48,"pt2":0.75,"f":0.46},{"replica":48,"pt2":1,"f":0.11},
{"replica":49,"pt2":0,"f":330},{"replica":49,"pt2":0.01,"f":286.9},{"replica":49,"pt2":0.02,"f":249.4},{"replica":49,"pt2":0.03,"f":216.8},{"replica":49,"pt2":0.04,"f":188.5},{"replica":49,"pt2":0.06,"f":142.5},{"replica":49,"pt2":0.08,"f":107.7},{"replica":49,"pt2":0.1,"f":81.4},{"replica":49,"pt2":0.13,"f":53.5},{"replica":49,"pt2":0.16,"f":35.1},{"replica":49,"pt2":0.2,"f":20.1},{"replica":49,"pt2":0.25,"f":12.1},{"replica":49,"pt2":0.3,"f":8},{"replica":49,"pt2":0.4,"f":3.8},{"replica":49,"pt2":0.55,"f":1.5},{"replica":49,"pt2":0.75,"f":0.5},{"replica":49,"pt2":1,"f":0.12},
{"replica":50,"pt2":0,"f":355},{"replica":50,"pt2":0.01,"f":308.6},{"replica":50,"pt2":0.02,"f":268.3},{"replica":50,"pt2":0.03,"f":233.2},{"replica":50,"pt2":0.04,"f":202.8},{"replica":50,"pt2":0.06,"f":153.3},{"replica":50,"pt2":0.08,"f":115.8},{"replica":50,"pt2":0.1,"f":87.5},{"replica":50,"pt2":0.13,"f":57.5},{"replica":50,"pt2":0.16,"f":37.8},{"replica":50,"pt2":0.2,"f":21.6},{"replica":50,"pt2":0.25,"f":13},{"replica":50,"pt2":0.3,"f":8.6},{"replica":50,"pt2":0.4,"f":4.1},{"replica":50,"pt2":0.55,"f":1.6},{"replica":50,"pt2":0.75,"f":0.54},{"replica":50,"pt2":1,"f":0.13},
{"replica":51,"pt2":0,"f":400},{"replica":51,"pt2":0.01,"f":342.6},{"replica":51,"pt2":0.02,"f":293.4},{"replica":51,"pt2":0.03,"f":251.2},{"replica":51,"pt2":0.04,"f":215.2},{"replica":51,"pt2":0.06,"f":157.8},{"replica":51,"pt2":0.08,"f":115.8},{"replica":51,"pt2":0.1,"f":84.9},{"replica":51,"pt2":0.13,"f":53.3},{"replica":51,"pt2":0.16,"f":33.5},{"replica":51,"pt2":0.2,"f":18},{"replica":51,"pt2":0.25,"f":10.8},{"replica":51,"pt2":0.3,"f":7.2},{"replica":51,"pt2":0.4,"f":3.4},{"replica":51,"pt2":0.55,"f":1.35},{"replica":51,"pt2":0.75,"f":0.45},{"replica":51,"pt2":1,"f":0.11},
{"replica":52,"pt2":0,"f":450},{"replica":52,"pt2":0.01,"f":385.4},{"replica":52,"pt2":0.02,"f":330},{"replica":52,"pt2":0.03,"f":282.6},{"replica":52,"pt2":0.04,"f":242.1},{"replica":52,"pt2":0.06,"f":177.6},{"replica":52,"pt2":0.08,"f":130.2},{"replica":52,"pt2":0.1,"f":95.5},{"replica":52,"pt2":0.13,"f":60},{"replica":52,"pt2":0.16,"f":37.7},{"replica":52,"pt2":0.2,"f":20.3},{"replica":52,"pt2":0.25,"f":12.2},{"replica":52,"pt2":0.3,"f":8.1},{"replica":52,"pt2":0.4,"f":3.9},{"replica":52,"pt2":0.55,"f":1.5},{"replica":52,"pt2":0.75,"f":0.5},{"replica":52,"pt2":1,"f":0.12},
{"replica":53,"pt2":0,"f":180},{"replica":53,"pt2":0.01,"f":163.7},{"replica":53,"pt2":0.02,"f":148.9},{"replica":53,"pt2":0.03,"f":135.4},{"replica":53,"pt2":0.04,"f":123.1},{"replica":53,"pt2":0.06,"f":101.8},{"replica":53,"pt2":0.08,"f":84.2},{"replica":53,"pt2":0.1,"f":69.6},{"replica":53,"pt2":0.13,"f":52.3},{"replica":53,"pt2":0.16,"f":39.4},{"replica":53,"pt2":0.2,"f":26.9},{"replica":53,"pt2":0.25,"f":16.1},{"replica":53,"pt2":0.3,"f":10.8},{"replica":53,"pt2":0.4,"f":5.1},{"replica":53,"pt2":0.55,"f":2},{"replica":53,"pt2":0.75,"f":0.67},{"replica":53,"pt2":1,"f":0.16},
{"replica":54,"pt2":0,"f":130},{"replica":54,"pt2":0.01,"f":120},{"replica":54,"pt2":0.02,"f":110.8},{"replica":54,"pt2":0.03,"f":102.3},{"replica":54,"pt2":0.04,"f":94.4},{"replica":54,"pt2":0.06,"f":80.4},{"replica":54,"pt2":0.08,"f":68.5},{"replica":54,"pt2":0.1,"f":58.4},{"replica":54,"pt2":0.13,"f":46},{"replica":54,"pt2":0.16,"f":36.1},{"replica":54,"pt2":0.2,"f":26.2},{"replica":54,"pt2":0.25,"f":15.7},{"replica":54,"pt2":0.3,"f":10.5},{"replica":54,"pt2":0.4,"f":5},{"replica":54,"pt2":0.55,"f":2},{"replica":54,"pt2":0.75,"f":0.66},{"replica":54,"pt2":1,"f":0.16},
{"replica":55,"pt2":0,"f":270},{"replica":55,"pt2":0.01,"f":234.7},{"replica":55,"pt2":0.02,"f":204.1},{"replica":55,"pt2":0.03,"f":177.4},{"replica":55,"pt2":0.04,"f":154.2},{"replica":55,"pt2":0.06,"f":116.6},{"replica":55,"pt2":0.08,"f":88.1},{"replica":55,"pt2":0.1,"f":66.6},{"replica":55,"pt2":0.13,"f":43.7},{"replica":55,"pt2":0.16,"f":28.8},{"replica":55,"pt2":0.2,"f":16.4},{"replica":55,"pt2":0.25,"f":9.8},{"replica":55,"pt2":0.3,"f":6.6},{"replica":55,"pt2":0.4,"f":3.1},{"replica":55,"pt2":0.55,"f":1.2},{"replica":55,"pt2":0.75,"f":0.41},{"replica":55,"pt2":1,"f":0.1},
{"replica":56,"pt2":0,"f":375},{"replica":56,"pt2":0.01,"f":326},{"replica":56,"pt2":0.02,"f":283.4},{"replica":56,"pt2":0.03,"f":246.4},{"replica":56,"pt2":0.04,"f":214.2},{"replica":56,"pt2":0.06,"f":161.9},{"replica":56,"pt2":0.08,"f":122.4},{"replica":56,"pt2":0.1,"f":92.5},{"replica":56,"pt2":0.13,"f":60.8},{"replica":56,"pt2":0.16,"f":39.9},{"replica":56,"pt2":0.2,"f":22.8},{"replica":56,"pt2":0.25,"f":13.7},{"replica":56,"pt2":0.3,"f":9.1},{"replica":56,"pt2":0.4,"f":4.3},{"replica":56,"pt2":0.55,"f":1.7},{"replica":56,"pt2":0.75,"f":0.57},{"replica":56,"pt2":1,"f":0.14},
{"replica":57,"pt2":0,"f":460},{"replica":57,"pt2":0.01,"f":388.1},{"replica":57,"pt2":0.02,"f":327.4},{"replica":57,"pt2":0.03,"f":276.2},{"replica":57,"pt2":0.04,"f":233},{"replica":57,"pt2":0.06,"f":165.9},{"replica":57,"pt2":0.08,"f":118.1},{"replica":57,"pt2":0.1,"f":84},{"replica":57,"pt2":0.13,"f":50.5},{"replica":57,"pt2":0.16,"f":30.3},{"replica":57,"pt2":0.2,"f":15.4},{"replica":57,"pt2":0.25,"f":9.2},{"replica":57,"pt2":0.3,"f":6.2},{"replica":57,"pt2":0.4,"f":2.9},{"replica":57,"pt2":0.55,"f":1.15},{"replica":57,"pt2":0.75,"f":0.38},{"replica":57,"pt2":1,"f":0.09},
{"replica":58,"pt2":0,"f":540},{"replica":58,"pt2":0.01,"f":462.5},{"replica":58,"pt2":0.02,"f":396},{"replica":58,"pt2":0.03,"f":339.2},{"replica":58,"pt2":0.04,"f":290.5},{"replica":58,"pt2":0.06,"f":213.1},{"replica":58,"pt2":0.08,"f":156.3},{"replica":58,"pt2":0.1,"f":114.6},{"replica":58,"pt2":0.13,"f":72},{"replica":58,"pt2":0.16,"f":45.2},{"replica":58,"pt2":0.2,"f":24.3},{"replica":58,"pt2":0.25,"f":14.6},{"replica":58,"pt2":0.3,"f":9.7},{"replica":58,"pt2":0.4,"f":4.6},{"replica":58,"pt2":0.55,"f":1.8},{"replica":58,"pt2":0.75,"f":0.61},{"replica":58,"pt2":1,"f":0.15}
]
},
"layer":[
{"data":{"name":"blue"},
 "mark":{"type":"line","clip":true,"strokeWidth":1.7,"opacity":0.24,"interpolate":"monotone"},
 "encoding":{
  "x":{"field":"pt2","type":"quantitative","scale":{"domain":[0,1],"nice":false,"zero":false},
       "axis":{"orient":"bottom","values":[0,0.2,0.4,0.6,0.8,1],"format":".1f","grid":false,"domain":false,"tickSize":-5,"tickColor":"#8c8c8c","labelPadding":10,"labelFontSize":24,"labelFont":"Liberation Sans","labelColor":"#000","labelFlush":false,"labelOverlap":false,"title":null}},
  "y":{"field":"f","type":"quantitative","scale":{"domain":[0,646],"nice":false,"zero":false},
       "axis":{"orient":"left","values":[0,100,200,300,400,500,600],"grid":false,"domain":false,"tickSize":-5,"tickColor":"#8c8c8c","labelPadding":9,"labelFontSize":24,"labelFont":"Liberation Sans","labelColor":"#000","labelOverlap":false,"title":null}},
  "detail":{"field":"replica","type":"nominal"},
  "color":{"datum":"all replicas","type":"nominal","scale":{"domain":["replica 11","all replicas"],"range":["#ff0000","#00008b"]},
       "legend":{"title":null,"orient":"none","legendX":505,"legendY":52,"symbolType":"stroke","symbolSize":961,"symbolStrokeWidth":3,"symbolOpacity":1,"labelFontSize":25,"labelFont":"Liberation Sans","labelColor":"#000","labelOffset":11,"rowPadding":14,"padding":0,"labelLimit":400}}
 }},
{"data":{"name":"red"},
 "mark":{"type":"line","clip":true,"strokeWidth":3,"interpolate":"monotone"},
 "encoding":{
  "x":{"field":"pt2","type":"quantitative","scale":{"domain":[0,1],"nice":false,"zero":false},
       "axis":{"orient":"bottom","values":[0.05,0.1,0.15,0.25,0.3,0.35,0.45,0.5,0.55,0.65,0.7,0.75,0.85,0.9,0.95],"labels":false,"grid":false,"domain":false,"tickSize":-3,"tickColor":"#8c8c8c","title":null}},
  "y":{"field":"f","type":"quantitative","scale":{"domain":[0,646],"nice":false,"zero":false},
       "axis":{"orient":"left","values":[20,40,60,80,120,140,160,180,220,240,260,280,320,340,360,380,420,440,460,480,520,540,560,580,620,640],"labels":false,"grid":false,"domain":false,"tickSize":-3,"tickColor":"#8c8c8c","title":null}},
  "color":{"datum":"replica 11","type":"nominal","scale":{"domain":["replica 11","all replicas"],"range":["#ff0000","#00008b"]},
       "legend":{"title":null,"orient":"none","legendX":505,"legendY":52,"symbolType":"stroke","symbolSize":961,"symbolStrokeWidth":3,"symbolOpacity":1,"labelFontSize":25,"labelFont":"Liberation Sans","labelColor":"#000","labelOffset":11,"rowPadding":14,"padding":0,"labelLimit":400}}
 }},
{"data":{"name":"red"},
 "mark":{"type":"line","opacity":0},
 "encoding":{
  "x":{"field":"pt2","type":"quantitative","scale":{"domain":[0,1],"nice":false,"zero":false},
       "axis":{"orient":"top","values":[0,0.2,0.4,0.6,0.8,1],"labels":false,"grid":false,"domain":false,"tickSize":-5,"tickColor":"#8c8c8c","title":null}},
  "y":{"field":"f","type":"quantitative","scale":{"domain":[0,646],"nice":false,"zero":false},
       "axis":{"orient":"right","values":[0,100,200,300,400,500,600],"labels":false,"grid":false,"domain":false,"tickSize":-5,"tickColor":"#8c8c8c","title":null}}
 }},
{"data":{"name":"red"},
 "mark":{"type":"line","opacity":0},
 "encoding":{
  "x":{"field":"pt2","type":"quantitative","scale":{"domain":[0,1],"nice":false,"zero":false},
       "axis":{"orient":"top","values":[0.05,0.1,0.15,0.25,0.3,0.35,0.45,0.5,0.55,0.65,0.7,0.75,0.85,0.9,0.95],"labels":false,"grid":false,"domain":false,"tickSize":-3,"tickColor":"#8c8c8c","title":null}},
  "y":{"field":"f","type":"quantitative","scale":{"domain":[0,646],"nice":false,"zero":false},
       "axis":{"orient":"right","values":[20,40,60,80,120,140,160,180,220,240,260,280,320,340,360,380,420,440,460,480,520,540,560,580,620,640],"labels":false,"grid":false,"domain":false,"tickSize":-3,"tickColor":"#8c8c8c","title":null}}
 }},
{"data":{"values":[{}]},"mark":{"type":"text","text":"xh","font":"Liberation Sans","fontSize":26,"fontStyle":"italic","align":"left","baseline":"alphabetic","color":"#000"},
 "encoding":{"x":{"datum":0.3775,"type":"quantitative","scale":{"domain":[0,1],"nice":false,"zero":false},"axis":null},"y":{"datum":658.8,"type":"quantitative","scale":{"domain":[0,646],"nice":false,"zero":false},"axis":null}}},
{"data":{"values":[{}]},"mark":{"type":"text","text":"1","font":"Liberation Sans","fontSize":15,"fontStyle":"italic","align":"left","baseline":"alphabetic","dy":5,"color":"#000"},
 "encoding":{"x":{"datum":0.4152,"type":"quantitative","scale":{"domain":[0,1],"nice":false,"zero":false},"axis":null},"y":{"datum":658.8,"type":"quantitative","scale":{"domain":[0,646],"nice":false,"zero":false},"axis":null}}},
{"data":{"values":[{}]},"mark":{"type":"text","text":"⊥","font":"DejaVu Sans","fontSize":18,"align":"left","baseline":"alphabetic","dy":-7,"color":"#000"},
 "encoding":{"x":{"datum":0.4315,"type":"quantitative","scale":{"domain":[0,1],"nice":false,"zero":false},"axis":null},"y":{"datum":658.8,"type":"quantitative","scale":{"domain":[0,646],"nice":false,"zero":false},"axis":null}}},
{"data":{"values":[{}]},"mark":{"type":"text","text":"g","font":"Liberation Sans","fontSize":18,"fontStyle":"italic","align":"left","baseline":"alphabetic","dy":-12,"color":"#000"},
 "encoding":{"x":{"datum":0.4586,"type":"quantitative","scale":{"domain":[0,1],"nice":false,"zero":false},"axis":null},"y":{"datum":658.8,"type":"quantitative","scale":{"domain":[0,646],"nice":false,"zero":false},"axis":null}}},
{"data":{"values":[{}]},"mark":{"type":"text","text":"(","font":"Liberation Sans","fontSize":27,"align":"left","baseline":"alphabetic","dy":1,"color":"#000"},
 "encoding":{"x":{"datum":0.4776,"type":"quantitative","scale":{"domain":[0,1],"nice":false,"zero":false},"axis":null},"y":{"datum":658.8,"type":"quantitative","scale":{"domain":[0,646],"nice":false,"zero":false},"axis":null}}},
{"data":{"values":[{}]},"mark":{"type":"text","text":"x","font":"Liberation Sans","fontSize":26,"fontStyle":"italic","align":"left","baseline":"alphabetic","color":"#000"},
 "encoding":{"x":{"datum":0.4885,"type":"quantitative","scale":{"domain":[0,1],"nice":false,"zero":false},"axis":null},"y":{"datum":658.8,"type":"quantitative","scale":{"domain":[0,646],"nice":false,"zero":false},"axis":null}}},
{"data":{"values":[{}]},"mark":{"type":"text","text":",","font":"Liberation Sans","fontSize":26,"align":"left","baseline":"alphabetic","color":"#000"},
 "encoding":{"x":{"datum":0.5088,"type":"quantitative","scale":{"domain":[0,1],"nice":false,"zero":false},"axis":null},"y":{"datum":658.8,"type":"quantitative","scale":{"domain":[0,646],"nice":false,"zero":false},"axis":null}}},
{"data":{"values":[{}]},"mark":{"type":"text","text":"p","font":"Liberation Sans","fontSize":26,"fontStyle":"italic","align":"left","baseline":"alphabetic","color":"#000"},
 "encoding":{"x":{"datum":0.5265,"type":"quantitative","scale":{"domain":[0,1],"nice":false,"zero":false},"axis":null},"y":{"datum":658.8,"type":"quantitative","scale":{"domain":[0,646],"nice":false,"zero":false},"axis":null}}},
{"data":{"values":[{}]},"mark":{"type":"text","text":"T","font":"Liberation Sans","fontSize":16,"fontStyle":"italic","align":"left","baseline":"alphabetic","dy":5,"color":"#000"},
 "encoding":{"x":{"datum":0.5522,"type":"quantitative","scale":{"domain":[0,1],"nice":false,"zero":false},"axis":null},"y":{"datum":658.8,"type":"quantitative","scale":{"domain":[0,646],"nice":false,"zero":false},"axis":null}}},
{"data":{"values":[{}]},"mark":{"type":"text","text":"2","font":"Liberation Sans","fontSize":18,"align":"left","baseline":"alphabetic","dy":-12,"color":"#000"},
 "encoding":{"x":{"datum":0.5740,"type":"quantitative","scale":{"domain":[0,1],"nice":false,"zero":false},"axis":null},"y":{"datum":658.8,"type":"quantitative","scale":{"domain":[0,646],"nice":false,"zero":false},"axis":null}}},
{"data":{"values":[{}]},"mark":{"type":"text","text":")","font":"Liberation Sans","fontSize":27,"align":"left","baseline":"alphabetic","dy":1,"color":"#000"},
 "encoding":{"x":{"datum":0.6010,"type":"quantitative","scale":{"domain":[0,1],"nice":false,"zero":false},"axis":null},"y":{"datum":658.8,"type":"quantitative","scale":{"domain":[0,646],"nice":false,"zero":false},"axis":null}}},
{"data":{"values":[{}]},"mark":{"type":"text","text":"p","font":"Liberation Sans","fontSize":24,"fontStyle":"italic","align":"left","baseline":"alphabetic","color":"#000"},
 "encoding":{"x":{"datum":0.4053,"type":"quantitative","scale":{"domain":[0,1],"nice":false,"zero":false},"axis":null},"y":{"datum":-99.4,"type":"quantitative","scale":{"domain":[0,646],"nice":false,"zero":false},"axis":null}}},
{"data":{"values":[{}]},"mark":{"type":"text","text":"T","font":"Liberation Sans","fontSize":16,"fontStyle":"italic","align":"left","baseline":"alphabetic","dy":4,"color":"#000"},
 "encoding":{"x":{"datum":0.4274,"type":"quantitative","scale":{"domain":[0,1],"nice":false,"zero":false},"axis":null},"y":{"datum":-99.4,"type":"quantitative","scale":{"domain":[0,646],"nice":false,"zero":false},"axis":null}}},
{"data":{"values":[{}]},"mark":{"type":"text","text":"2","font":"Liberation Sans","fontSize":17,"align":"left","baseline":"alphabetic","dy":-11,"color":"#000"},
 "encoding":{"x":{"datum":0.4392,"type":"quantitative","scale":{"domain":[0,1],"nice":false,"zero":false},"axis":null},"y":{"datum":-99.4,"type":"quantitative","scale":{"domain":[0,646],"nice":false,"zero":false},"axis":null}}},
{"data":{"values":[{}]},"mark":{"type":"text","text":"(GeV","font":"Liberation Sans","fontSize":24,"align":"left","baseline":"alphabetic","color":"#000"},
 "encoding":{"x":{"datum":0.4875,"type":"quantitative","scale":{"domain":[0,1],"nice":false,"zero":false},"axis":null},"y":{"datum":-99.4,"type":"quantitative","scale":{"domain":[0,646],"nice":false,"zero":false},"axis":null}}},
{"data":{"values":[{}]},"mark":{"type":"text","text":"2","font":"Liberation Sans","fontSize":15,"align":"left","baseline":"alphabetic","dy":-15,"color":"#000"},
 "encoding":{"x":{"datum":0.5658,"type":"quantitative","scale":{"domain":[0,1],"nice":false,"zero":false},"axis":null},"y":{"datum":-99.4,"type":"quantitative","scale":{"domain":[0,646],"nice":false,"zero":false},"axis":null}}},
{"data":{"values":[{}]},"mark":{"type":"text","text":")","font":"Liberation Sans","fontSize":24,"align":"left","baseline":"alphabetic","color":"#000"},
 "encoding":{"x":{"datum":0.5817,"type":"quantitative","scale":{"domain":[0,1],"nice":false,"zero":false},"axis":null},"y":{"datum":-99.4,"type":"quantitative","scale":{"domain":[0,646],"nice":false,"zero":false},"axis":null}}},
{"data":{"values":[{}]},"mark":{"type":"text","text":"x","font":"Liberation Sans","fontSize":36,"fontStyle":"italic","align":"left","baseline":"alphabetic","color":"#000"},
 "encoding":{"x":{"datum":0.1407,"type":"quantitative","scale":{"domain":[0,1],"nice":false,"zero":false},"axis":null},"y":{"datum":540.9,"type":"quantitative","scale":{"domain":[0,646],"nice":false,"zero":false},"axis":null}}},
{"data":{"values":[{}]},"mark":{"type":"text","text":"= 0.001","font":"Liberation Sans","fontSize":36,"align":"left","baseline":"alphabetic","color":"#000"},
 "encoding":{"x":{"datum":0.1832,"type":"quantitative","scale":{"domain":[0,1],"nice":false,"zero":false},"axis":null},"y":{"datum":540.9,"type":"quantitative","scale":{"domain":[0,646],"nice":false,"zero":false},"axis":null}}}
],
"resolve":{"axis":{"x":"independent","y":"independent"}}
}
